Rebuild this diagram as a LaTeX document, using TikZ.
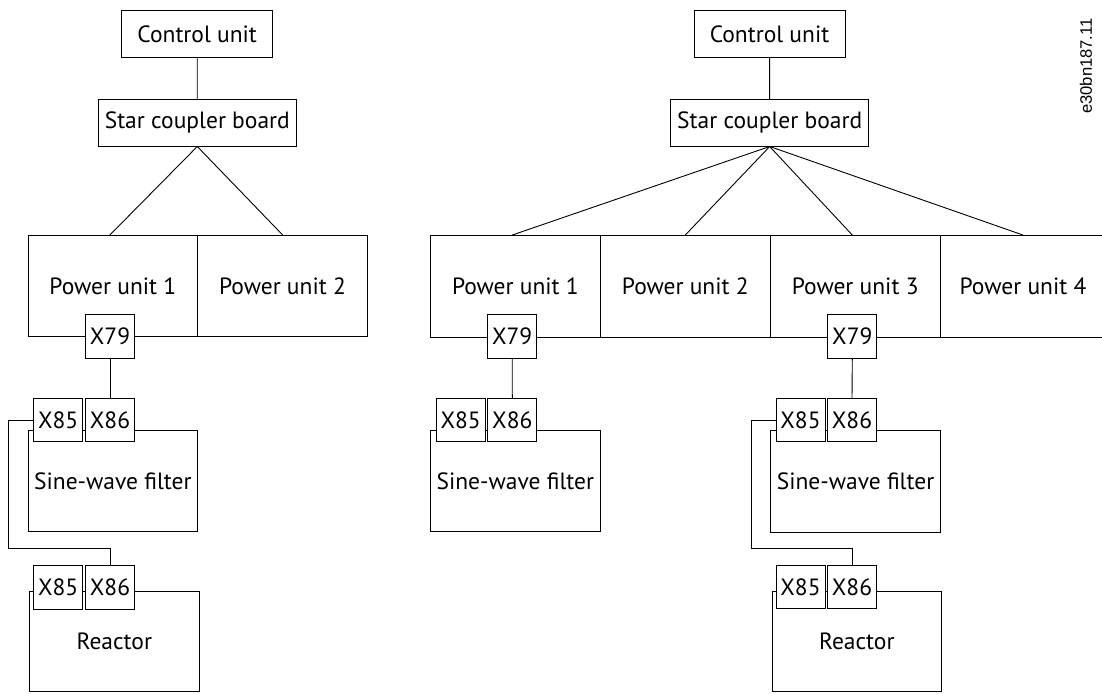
\documentclass[tikz,border=0pt]{standalone}
\usepackage{fontspec}
\setmainfont{PT Sans}
\newfontfamily\codefont{Liberation Sans}
\newcommand\mainfs{\fontsize{23.5}{27}\selectfont}
\newcommand\codefs{\codefont\fontsize{16.6}{19}\selectfont}
\begin{document}
\begin{tikzpicture}[x=1pt,y=-1pt,
  box/.style={draw, line width=0.9pt, inner sep=0pt, fill=white, font=\mainfs},
  conn/.style={draw, line width=0.9pt},
  tag/.style={box, minimum width=49pt, minimum height=43.5pt}]
\useasboundingbox (0,0) rectangle (1102,693);

% ---------- left ----------
\node[box, minimum width=151pt, minimum height=46.6pt] (cu1) at (197.2,34) {Control unit};
\node[box, minimum width=198pt, minimum height=46.7pt] (scb1) at (197.3,122.7) {Star coupler board};
\node[box, minimum width=169.7pt, minimum height=101.4pt] (pu1a) at (112.85,286) {Power unit 1};
\node[box, minimum width=169.6pt, minimum height=101.4pt] (pu2a) at (282.5,286) {Power unit 2};
\node[tag] (x79a) at (110,336.5) {X79};

\node[box, minimum width=169.7pt, minimum height=101.7pt] (swf1) at (112.85,480.85) {Sine-wave filter};
\node[tag] (x85a) at (58.2,420) {X85};
\node[tag] (x86a) at (110,420) {X86};

\node[box, minimum width=170pt, minimum height=100pt] (re1) at (114.3,641) {Reactor};
\node[tag] (x85b) at (58.2,587.2) {X85};
\node[tag] (x86b) at (110,587.2) {X86};

\draw[conn] (cu1) -- (scb1);
\draw[conn] (scb1.south) -- (x79a |- pu1a.north);
\draw[conn] (scb1.south) -- (pu2a.north);
\draw[conn] (x79a.south) -- (x86a.north);
\coordinate (wa) at (8,548.3);
\draw[conn] (x85a.west) -| (wa) -| (x86b.north);

% ---------- right ----------
\node[box, minimum width=151pt, minimum height=46.6pt] (cu2) at (769.5,34) {Control unit};
\node[box, minimum width=198pt, minimum height=46.7pt] (scb2) at (769.7,122.7) {Star coupler board};
\node[box, minimum width=169.7pt, minimum height=101.5pt] (pu1b) at (515.35,286.25) {Power unit 1};
\node[box, minimum width=170.2pt, minimum height=101.5pt] (pu2b) at (685.3,286.25) {Power unit 2};
\node[box, minimum width=169.6pt, minimum height=101.5pt] (pu3b) at (855.2,286.25) {Power unit 3};
\node[box, minimum width=166pt, minimum height=101.5pt] (pu4b) at (1023,286.25) {Power unit 4};
\node[tag] (x79b) at (512.2,336.5) {X79};
\node[tag] (x79c) at (852.3,336.5) {X79};

\node[box, minimum width=170pt, minimum height=101.7pt] (swf2) at (515.3,480.85) {Sine-wave filter};
\node[tag] (x85c) at (460.6,420) {X85};
\node[tag] (x86c) at (512.3,420) {X86};

\node[box, minimum width=169.6pt, minimum height=101.6pt] (swf3) at (855.5,481.5) {Sine-wave filter};
\node[tag] (x85d) at (800.5,420) {X85};
\node[tag] (x86d) at (852,420) {X86};

\node[box, minimum width=169pt, minimum height=100pt] (re2) at (856.8,641) {Reactor};
\node[tag] (x85e) at (800.5,587) {X85};
\node[tag] (x86e) at (852,587) {X86};

\draw[conn] (cu2) -- (scb2);
\draw[conn] (scb2.south) -- (x79b |- pu1b.north);
\draw[conn] (scb2.south) -- (pu2b.north);
\draw[conn] (scb2.south) -- (x79c |- pu3b.north);
\draw[conn] (scb2.south) -- (pu4b.north);
\draw[conn] (x79b.south) -- (x86c.north);
\draw[conn] (x79c.south) -- (x86d.north);
\coordinate (wb) at (751,548.3);
\draw[conn] (x85d.west) -| (wb) -| (x86e.north);

\node[rotate=90, font=\codefs, inner sep=0pt] (code) at (1086,66) {e30bn187.11};
\end{tikzpicture}
\end{document}
